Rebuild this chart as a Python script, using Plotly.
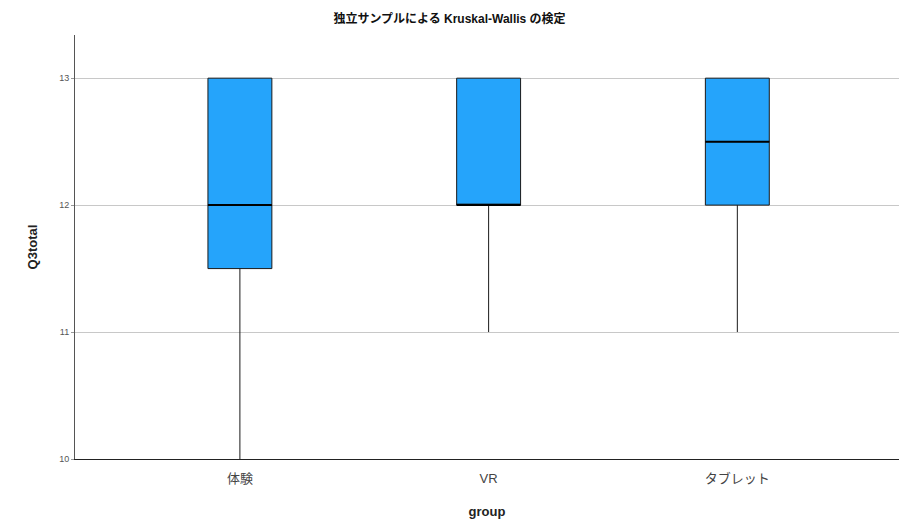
import plotly.graph_objects as go

# Box summary statistics per group
groups = ["体験", "VR", "タブレット"]
lower_whisker = [10, 11, 11]
q1 = [11.5, 12, 12]
median = [12, 12, 12.5]
q3 = [13, 13, 13]
upper_whisker = [13, 13, 13]

y_ticks = [10, 11, 12, 13]

font_family = "Liberation Sans, Arial, Noto Sans CJK JP, sans-serif"
box_fill = "#25a4fb"
box_width = 0.257

fig = go.Figure()

fig.add_trace(go.Box(
    x=groups,
    q1=q1,
    median=median,
    q3=q3,
    lowerfence=lower_whisker,
    upperfence=upper_whisker,
    width=box_width,
    whiskerwidth=0,
    fillcolor=box_fill,
    line=dict(color="#1a1a1a", width=1),
    boxpoints=False,
    showlegend=False,
    hoverinfo="skip",
))

# Heavier median bars drawn over each box
for i, g in enumerate(groups):
    fig.add_trace(go.Scatter(
        x=[i - box_width / 2, i + box_width / 2],
        y=[median[i], median[i]],
        mode="lines",
        line=dict(color="#000000", width=2),
        xaxis="x2",
        showlegend=False,
        hoverinfo="skip",
    ))

x_range = [-0.663, 2.65]

fig.update_layout(
    width=899,
    height=526,
    margin=dict(l=75, r=0, t=35, b=67),
    paper_bgcolor="white",
    plot_bgcolor="white",
    font=dict(family=font_family, color="#333333"),
    title=dict(
        text="<b>独立サンプルによる Kruskal-Wallis の検定</b>",
        x=0.5, xanchor="center",
        y=0.964, yanchor="middle",
        font=dict(size=12, color="#111111"),
    ),
    xaxis=dict(
        type="category",
        categoryorder="array",
        categoryarray=groups,
        range=x_range,
        showgrid=False,
        showline=True,
        linecolor="#222222",
        linewidth=1,
        ticks="",
        ticklabelstandoff=7,
        tickfont=dict(size=13, color="#444444"),
        title=dict(text="<b>group</b>", font=dict(size=13, color="#222222"), standoff=22),
        zeroline=False,
    ),
    xaxis2=dict(
        overlaying="x",
        range=x_range,
        visible=False,
    ),
    yaxis=dict(
        range=[10, 13.34],
        tickvals=y_ticks,
        ticktext=[str(v) for v in y_ticks],
        showgrid=True,
        gridcolor="#c8c8c8",
        gridwidth=1,
        showline=True,
        linecolor="#555555",
        linewidth=1,
        ticks="outside",
        ticklen=3,
        tickcolor="#999999",
        tickfont=dict(size=9, color="#555555"),
        title=dict(text="<b>Q3total</b>", font=dict(size=13, color="#222222"), standoff=18),
        zeroline=False,
    ),
)

fig.write_html("out.html")
